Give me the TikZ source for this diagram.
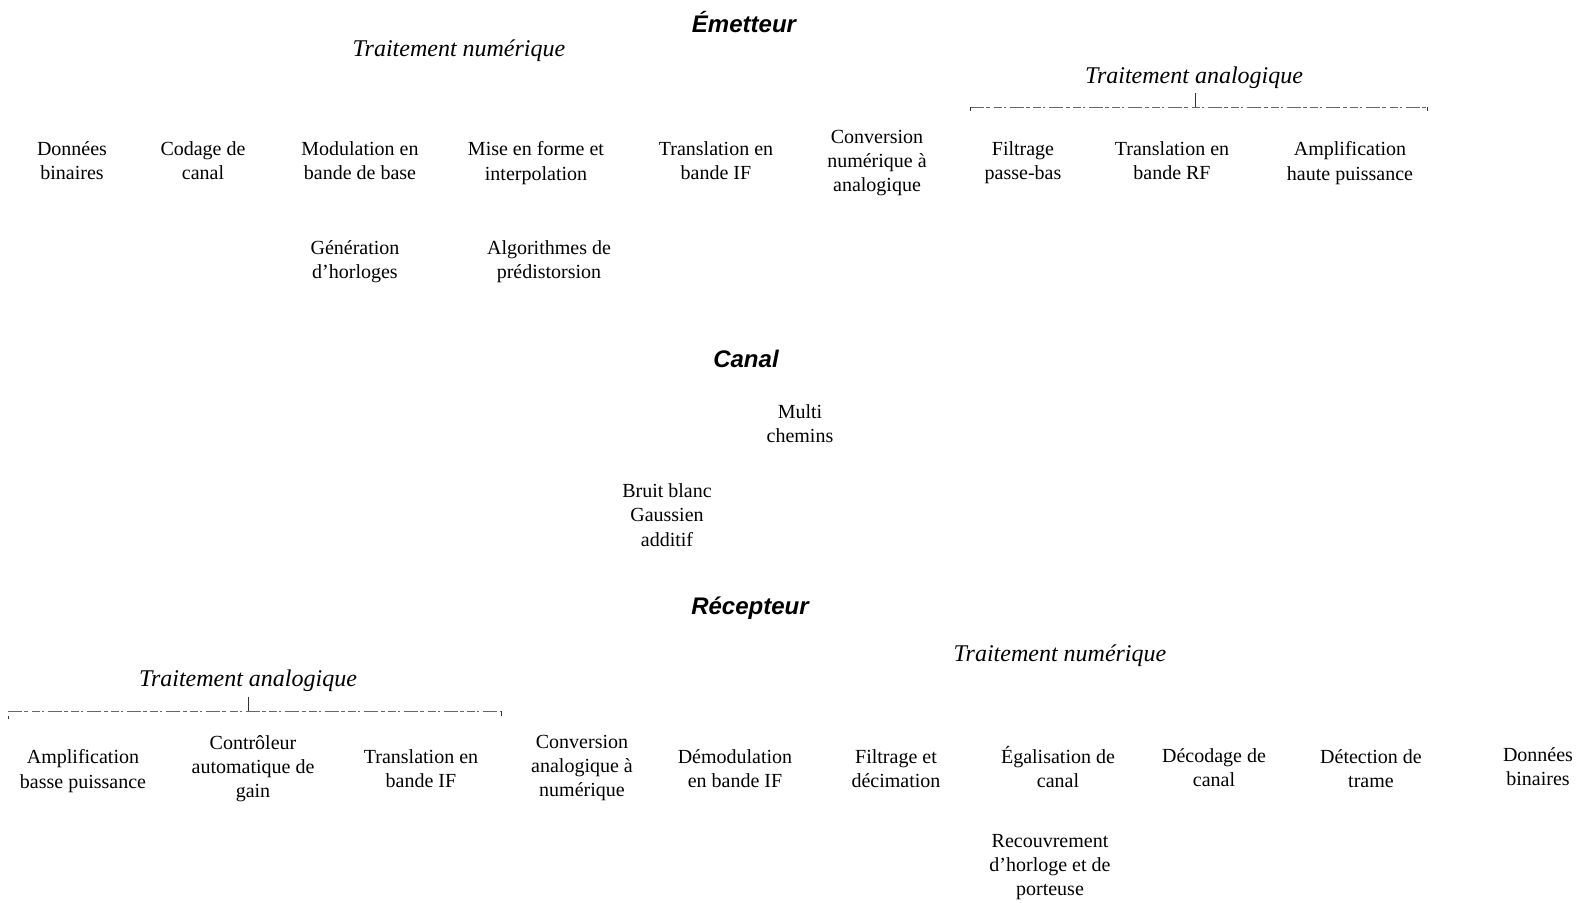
\documentclass[tikz,border=0pt]{standalone}
\usepackage{fontspec}
\setmainfont{Liberation Serif}
\newfontfamily\headfont{Liberation Sans}
\begin{document}
\begin{tikzpicture}[x=0.5pt,y=-0.5pt,
  block/.style={align=center,font=\fontsize{10}{12.1}\selectfont,inner sep=0pt},
  part/.style={font=\headfont\fontsize{12}{14}\selectfont\bfseries\itshape,inner sep=0pt},
  areatitle/.style={font=\fontsize{12}{14}\selectfont\itshape,inner sep=0pt},
  brace/.style={draw=black!60,line width=0.4pt,dash pattern=on 7pt off 1.2pt on 2pt off 1.6pt on 4pt off 1pt on 1pt off 2pt},
  tick/.style={draw=black!80,line width=0.5pt}]
\useasboundingbox (0,0) rectangle (1587,903);

% ---------- Émetteur ----------
\node[part] (em) at (744,22) {Émetteur};
\node[areatitle] (emnum) at (459,51) {Traitement numérique};
\node[areatitle] (emana) at (1194,78) {Traitement analogique};

\coordinate (ebl) at (970,111);
\coordinate (ebr) at (1427,111);
\coordinate (ebm) at (1195,107);
\coordinate (ebt) at (1195,93);
\draw[brace] (970,107) -- (1427,107);
\draw[tick] (ebl) -- (970,107);
\draw[tick] (ebr) -- (1427,107);
\draw[tick] (ebt) -- (ebm);

\node[block] (e1) at (72,161) {Données\\binaires};
\node[block] (e2) at (203,161) {Codage de\\canal};
\node[block] (e3) at (360,161) {Modulation en\\bande de base};
\node[block] (e4) at (536,163) {Mise en forme et\\interpolation};
\node[block] (e5) at (716,161) {Translation en\\bande IF};
\node[block] (e6) at (877,163) {Conversion\\numérique à\\analogique};
\node[block] (e7) at (1023,163) {Filtrage\\passe-bas};
\node[block] (e8) at (1172,161) {Translation en\\bande RF};
\node[block] (e9) at (1350,163) {Amplification\\haute puissance};

\node[block] (g1) at (355,262) {Génération\\d’horloges};
\node[block] (g2) at (549,262) {Algorithmes de\\prédistorsion};

% ---------- Canal ----------
\node[part] (ca) at (746,359) {Canal};
\node[block] (c1) at (800,424) {Multi\\chemins};
\node[block] (c2) at (667,515) {Bruit blanc\\Gaussien\\additif};

% ---------- Récepteur ----------
\node[part] (re) at (750,608) {Récepteur};
\node[areatitle] (renum) at (1060,656) {Traitement numérique};
\node[areatitle] (reana) at (248,681) {Traitement analogique};

\coordinate (rbl) at (8,719);
\coordinate (rbr) at (501,716);
\coordinate (rbm) at (248,711);
\coordinate (rbt) at (248,697);
\draw[brace] (8,711) -- (501,711);
\draw[tick] (rbl) -- (8,716);
\draw[tick] (rbr) -- (501,711);
\draw[tick] (rbt) -- (rbm);

\node[block] (r1) at (83,771) {Amplification\\basse puissance};
\node[block] (r2) at (253,769) {Contrôleur\\automatique de\\gain};
\node[block] (r3) at (421,769) {Translation en\\bande IF};
\node[block] (r4) at (582,768) {Conversion\\analogique à\\numérique};
\node[block] (r5) at (735,769) {Démodulation\\en bande IF};
\node[block] (r6) at (896,769) {Filtrage et\\décimation};
\node[block] (r7) at (1058,767) {Égalisation de\\canal};
\node[block] (r8) at (1214,768) {Décodage de\\canal};
\node[block] (r9) at (1371,769) {Détection de\\trame};
\node[block] (r10) at (1538,767) {Données\\binaires};

\node[block] (h1) at (1050,867) {Recouvrement\\d’horloge et de\\porteuse};
\end{tikzpicture}
\end{document}
